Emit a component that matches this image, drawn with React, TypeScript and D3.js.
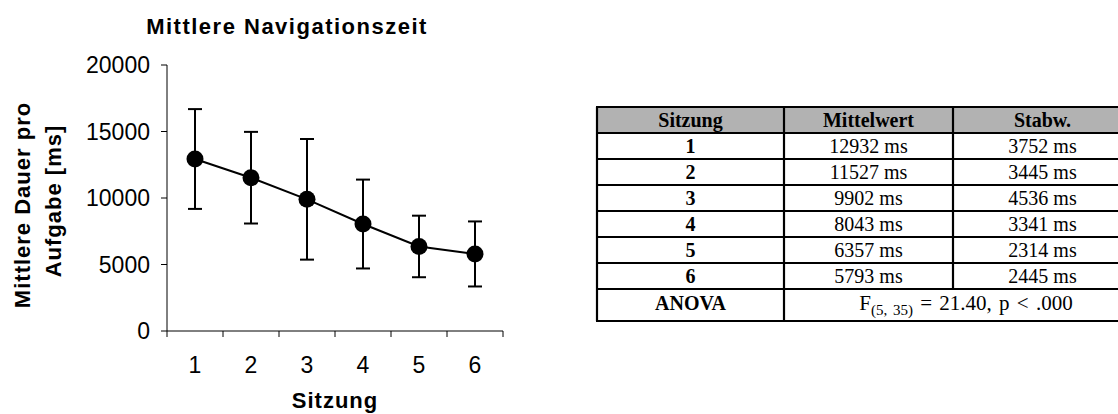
import React from "react";
import * as d3 from "d3";

const sessions = ["1", "2", "3", "4", "5", "6"];
const means = [12932, 11527, 9902, 8043, 6357, 5793];
const sds = [3752, 3445, 4536, 3341, 2314, 2445];
const yTicks = [0, 5000, 10000, 15000, 20000];
const tableHeader = ["Sitzung", "Mittelwert", "Stabw."];
const anovaLabel = "ANOVA";
const anovaMain = "F";
const anovaSub = "(5, 35)";
const anovaRest = " = 21.40, p < .000";

const W = 1118;
const H = 414;
const plot = { left: 167, right: 503, top: 65, bottom: 331 };
const sans = "Arial, 'Liberation Sans', sans-serif";
const serif = "'Times New Roman', 'Liberation Serif', serif";

const colX = [597, 784, 953, 1132];
const headerTop = 107;
const headerH = 26;
const rowH = 26;
const anovaH = 32;

export default function App() {
  const x = d3.scaleBand<string>().domain(sessions).range([plot.left, plot.right]);
  const y = d3.scaleLinear().domain([0, 20000]).range([plot.bottom, plot.top]);
  const cx = (s: string) => (x(s) as number) + x.bandwidth() / 2;
  const pts = sessions.map((s, i) => ({ s, m: means[i], sd: sds[i] }));
  const line = d3
    .line<{ s: string; m: number }>()
    .x((d) => cx(d.s))
    .y((d) => y(d.m));

  const xTickPos = [...sessions.map((s) => x(s) as number), plot.right];

  const rowTops = sessions.map((_, i) => headerTop + headerH + i * rowH);
  const anovaTop = headerTop + headerH + sessions.length * rowH;
  const tableBottom = anovaTop + anovaH;
  const colCenter = (i: number) => (colX[i] + colX[i + 1]) / 2;
  const hLines = [headerTop, headerTop + headerH, ...rowTops.slice(1), anovaTop, tableBottom];

  return (
    <svg
      width={W}
      height={H}
      style={{ position: "absolute", left: 0, top: 0, background: "#fff" }}
    >
      <rect x={0} y={0} width={W} height={H} fill="#fff" />
      <text
        x={287}
        y={34}
        textAnchor="middle"
        fontFamily={sans}
        fontWeight="bold"
        fontSize={22}
        letterSpacing={1.5}
      >
        Mittlere Navigationszeit
      </text>

      <line x1={plot.left} x2={plot.left} y1={plot.top} y2={plot.bottom} stroke="#000" strokeWidth={1} />
      {yTicks.map((t) => (
        <g key={t}>
          <line x1={plot.left - 6} x2={plot.left} y1={y(t)} y2={y(t)} stroke="#000" strokeWidth={1} />
          <text
            x={plot.left - 17}
            y={y(t)}
            dy="0.36em"
            textAnchor="end"
            fontFamily={sans}
            fontSize={23}
          >
            {t}
          </text>
        </g>
      ))}

      <line x1={plot.left} x2={plot.right} y1={plot.bottom} y2={plot.bottom} stroke="#000" strokeWidth={1} />
      {xTickPos.map((p, i) => (
        <line key={i} x1={p} x2={p} y1={plot.bottom} y2={plot.bottom + 6} stroke="#000" strokeWidth={1} />
      ))}
      {sessions.map((s) => (
        <text key={s} x={cx(s)} y={373} textAnchor="middle" fontFamily={sans} fontSize={23}>
          {s}
        </text>
      ))}
      <text
        x={335}
        y={408}
        textAnchor="middle"
        fontFamily={sans}
        fontWeight="bold"
        fontSize={22}
        letterSpacing={1}
      >
        Sitzung
      </text>

      <text
        transform={`translate(30,205) rotate(-90)`}
        textAnchor="middle"
        fontFamily={sans}
        fontWeight="bold"
        fontSize={22}
        letterSpacing={1}
      >
        Mittlere Dauer pro
      </text>
      <text
        transform={`translate(61,201) rotate(-90)`}
        textAnchor="middle"
        fontFamily={sans}
        fontWeight="bold"
        fontSize={22}
        letterSpacing={1}
      >
        Aufgabe [ms]
      </text>

      {pts.map((d) => (
        <g key={"e" + d.s} stroke="#000" strokeWidth={2}>
          <line x1={cx(d.s)} x2={cx(d.s)} y1={y(d.m + d.sd)} y2={y(d.m - d.sd)} />
          <line x1={cx(d.s) - 7} x2={cx(d.s) + 7} y1={y(d.m + d.sd)} y2={y(d.m + d.sd)} />
          <line x1={cx(d.s) - 7} x2={cx(d.s) + 7} y1={y(d.m - d.sd)} y2={y(d.m - d.sd)} />
        </g>
      ))}
      <path d={line(pts) || ""} fill="none" stroke="#000" strokeWidth={2} />
      {pts.map((d) => (
        <circle key={"c" + d.s} cx={cx(d.s)} cy={y(d.m)} r={8.5} fill="#000" />
      ))}

      <rect
        x={colX[0]}
        y={headerTop}
        width={colX[3] - colX[0]}
        height={headerH}
        fill="#b2b2b2"
      />
      {hLines.map((yy, i) => (
        <line key={"h" + i} x1={colX[0] - 1} x2={colX[3] + 1} y1={yy} y2={yy} stroke="#000" strokeWidth={2.2} />
      ))}
      {[0, 1, 2, 3].map((i) => (
        <line
          key={"v" + i}
          x1={colX[i]}
          x2={colX[i]}
          y1={headerTop}
          y2={i === 2 ? anovaTop : tableBottom}
          stroke="#000"
          strokeWidth={2.2}
        />
      ))}
      {tableHeader.map((h, i) => (
        <text
          key={h}
          x={colCenter(i)}
          y={headerTop + 20}
          textAnchor="middle"
          fontFamily={serif}
          fontWeight="bold"
          fontSize={20}
        >
          {h}
        </text>
      ))}
      {sessions.map((s, i) => (
        <g key={"r" + s} fontFamily={serif} fontSize={20} textAnchor="middle">
          <text x={colCenter(0)} y={rowTops[i] + 20} fontWeight="bold">
            {s}
          </text>
          <text x={colCenter(1)} y={rowTops[i] + 20}>
            {`${means[i]} ms`}
          </text>
          <text x={colCenter(2)} y={rowTops[i] + 20}>
            {`${sds[i]} ms`}
          </text>
        </g>
      ))}
      <text
        x={colCenter(0)}
        y={anovaTop + 21}
        textAnchor="middle"
        fontFamily={serif}
        fontWeight="bold"
        fontSize={20}
      >
        {anovaLabel}
      </text>
      <text
        x={(colX[1] + colX[3]) / 2 + 8}
        y={anovaTop + 21}
        textAnchor="middle"
        fontFamily={serif}
        fontSize={21}
        wordSpacing={2}
      >
        {anovaMain}
        <tspan fontSize={15} dy={5}>
          {anovaSub}
        </tspan>
        <tspan dy={-5}>{anovaRest}</tspan>
      </text>
    </svg>
  );
}
